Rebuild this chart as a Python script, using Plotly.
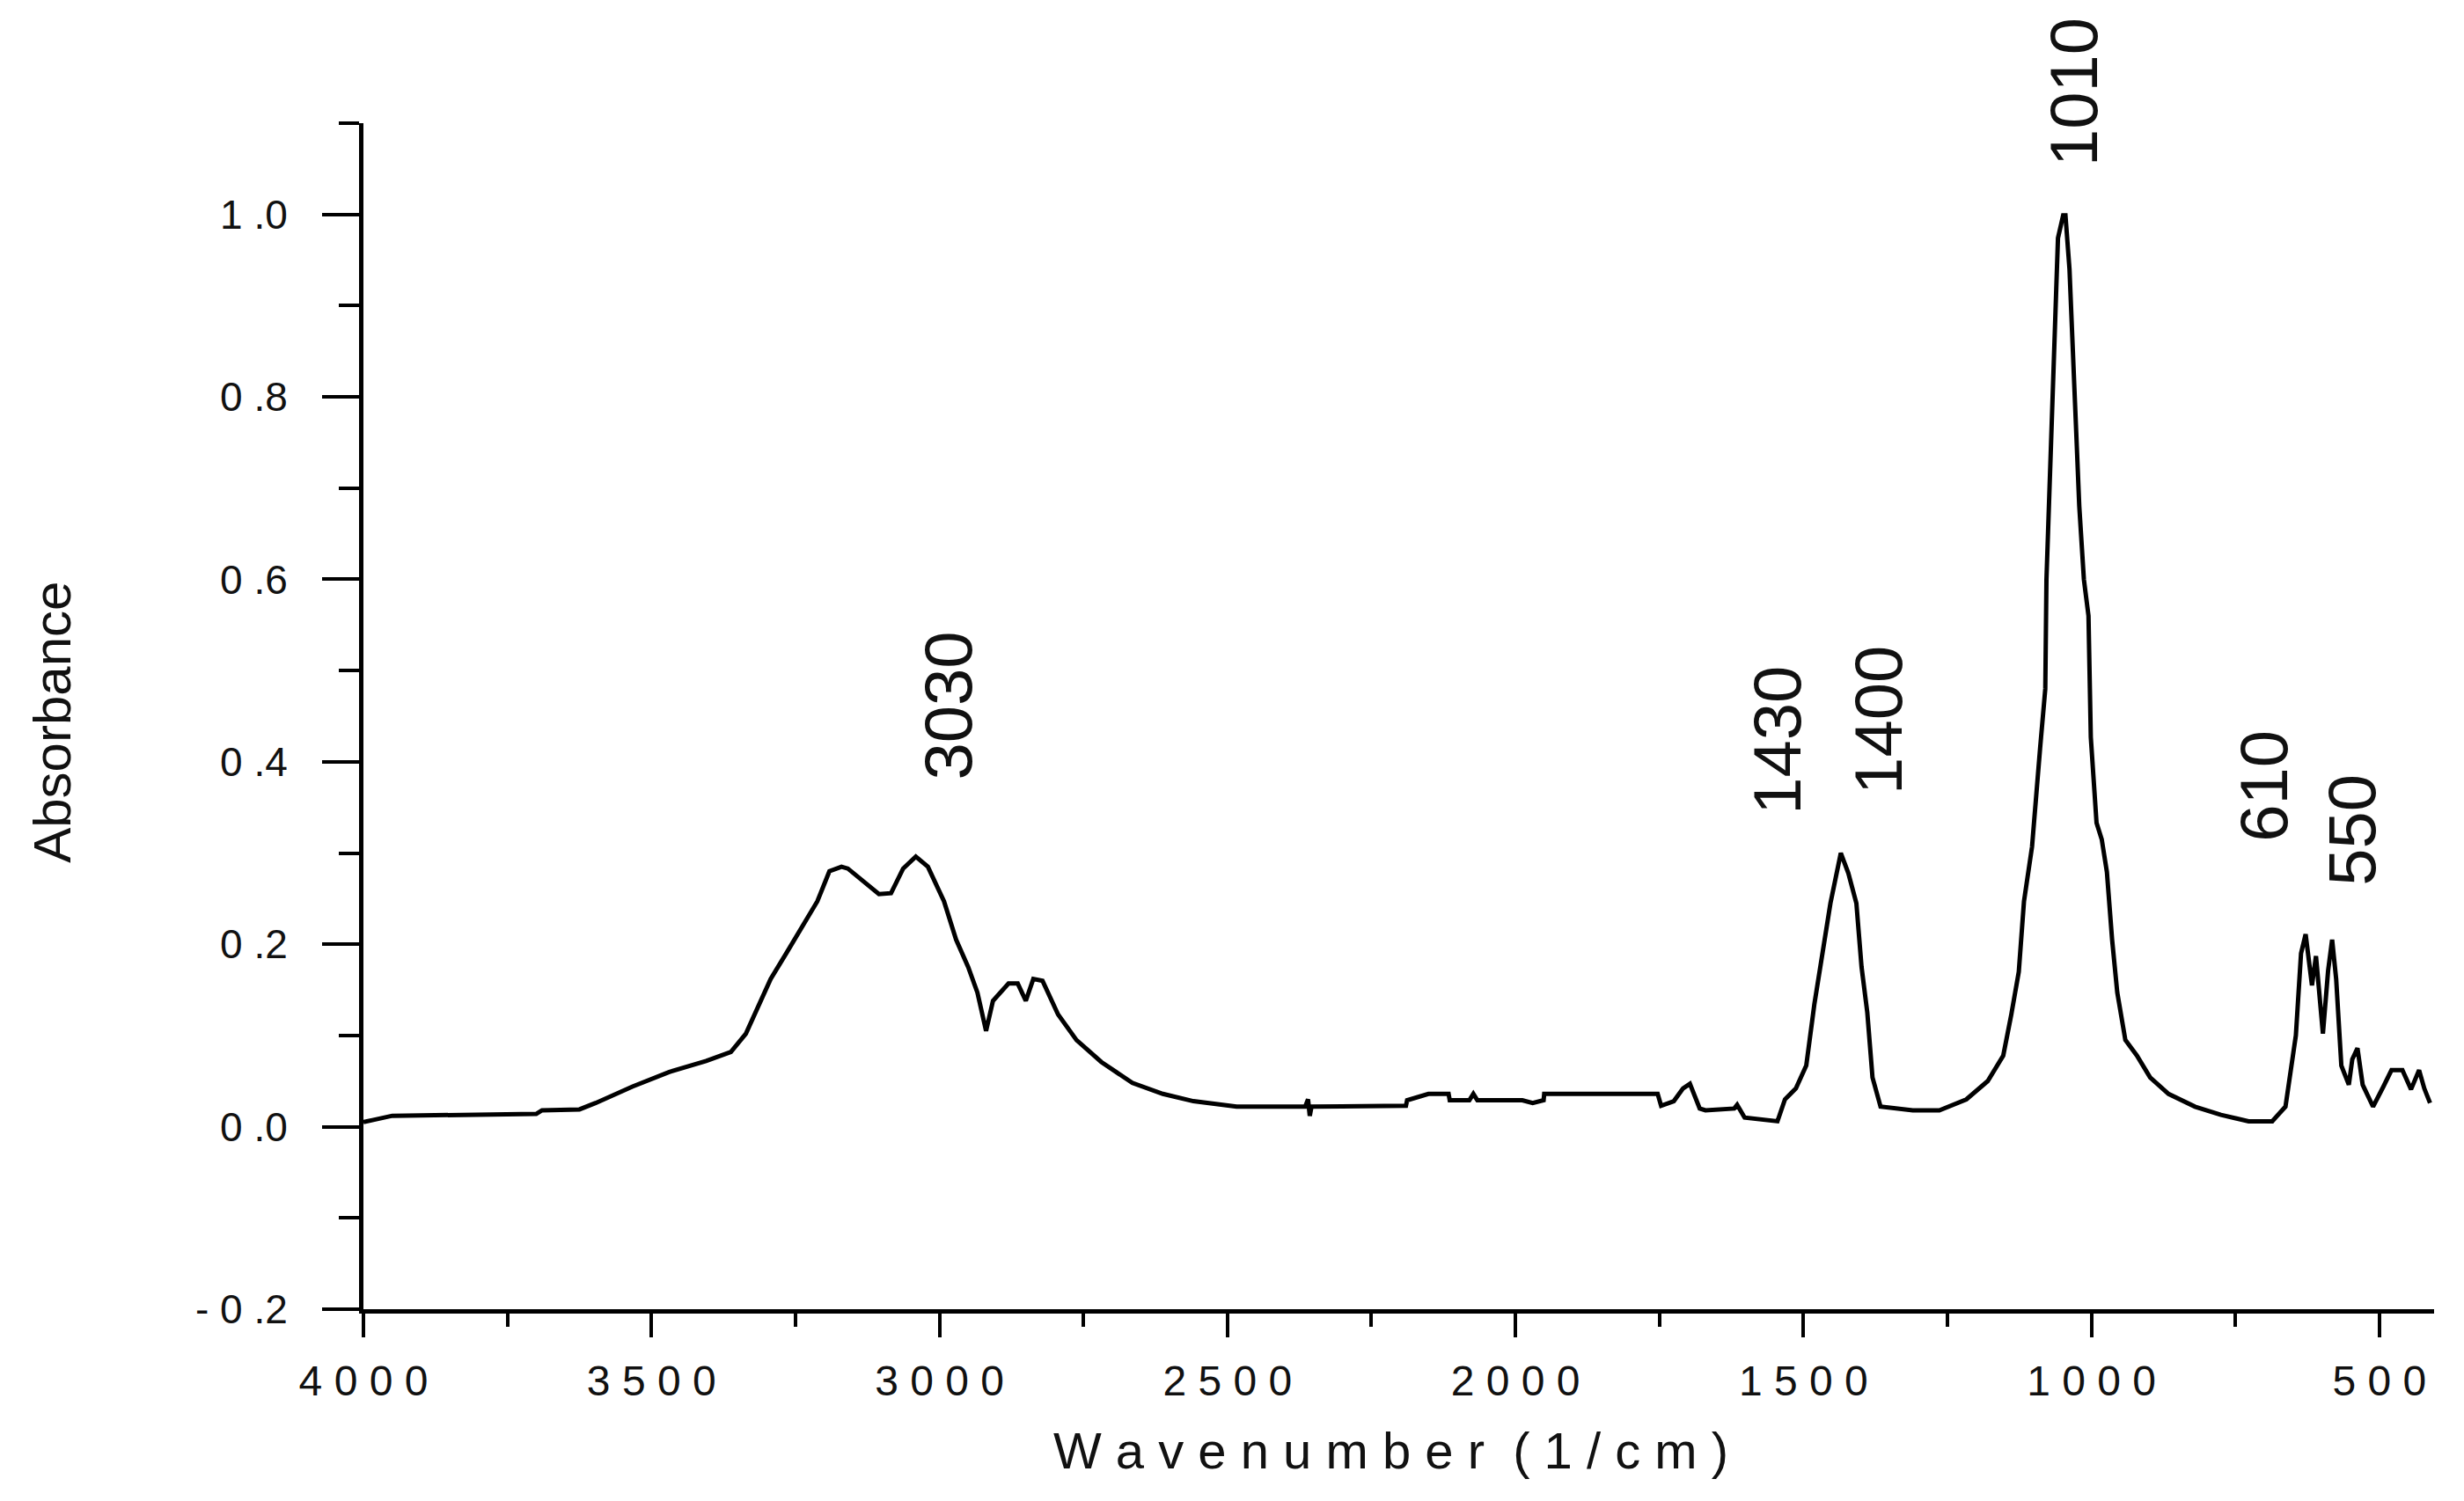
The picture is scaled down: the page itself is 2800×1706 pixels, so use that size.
import plotly.graph_objects as go

GRAPH_WIDTH = 2800
GRAPH_HEIGHT = 1706
FONT = "Liberation Sans"
Y_RANGE = [-0.2, 1.1]

# Spectrum (wavenumber in 1/cm, absorbance)
wavenumber = [
    4000, 3950, 3700, 3690, 3625, 3597, 3533, 3469, 3405, 3362, 3336, 3315,
    3293, 3266, 3238, 3212, 3191, 3170, 3159, 3105, 3084, 3063, 3041, 3020,
    2992, 2971, 2950, 2934, 2919, 2907, 2880, 2864, 2850, 2837, 2821, 2794,
    2762, 2719, 2665, 2612, 2559, 2484, 2365, 2360, 2357, 2354, 2190, 2188,
    2151, 2116, 2114, 2080, 2073, 2066, 1988, 1970, 1951, 1950, 1753, 1747,
    1725, 1709, 1697, 1680, 1670, 1620, 1615, 1602, 1545, 1532, 1513, 1495,
    1481, 1467, 1453, 1435, 1422, 1408, 1399, 1389, 1380, 1366, 1310, 1264,
    1217, 1180, 1153, 1139, 1126, 1117, 1103, 1089, 1080, 1078, 1067, 1058,
    1049, 1045, 1038, 1030, 1021, 1013, 1005, 1001, 991, 982, 973, 964, 955,
    941, 921, 898, 866, 820, 775, 727, 686, 663, 645, 636, 628, 617, 610,
    598, 589, 582, 575, 566, 553, 547, 538, 529, 511, 493, 479, 460, 445,
    431, 422, 412,
]
absorbance = [
    0.005, 0.012, 0.014, 0.018, 0.019, 0.026, 0.044, 0.060, 0.072, 0.082, 0.102, 0.132,
    0.162, 0.190, 0.220, 0.247, 0.280, 0.285, 0.283, 0.255, 0.256, 0.283, 0.296, 0.285,
    0.247, 0.205, 0.175, 0.147, 0.105, 0.138, 0.157, 0.157, 0.138, 0.162, 0.160, 0.123,
    0.095, 0.071, 0.048, 0.036, 0.028, 0.022, 0.022, 0.030, 0.012, 0.022, 0.023, 0.029,
    0.036, 0.036, 0.029, 0.029, 0.036, 0.029, 0.029, 0.026, 0.029, 0.036, 0.036, 0.023,
    0.028, 0.042, 0.047, 0.020, 0.018, 0.020, 0.024, 0.010, 0.006, 0.030, 0.042, 0.067,
    0.134, 0.190, 0.245, 0.300, 0.278, 0.245, 0.175, 0.125, 0.054, 0.022, 0.018, 0.018,
    0.030, 0.050, 0.078, 0.123, 0.170, 0.247, 0.307, 0.415, 0.480, 0.600, 0.825, 0.974,
    0.999, 0.999, 0.940, 0.820, 0.680, 0.600, 0.560, 0.427, 0.333, 0.315, 0.279, 0.205, 0.147,
    0.095, 0.078, 0.054, 0.036, 0.022, 0.013, 0.006, 0.006, 0.022, 0.100, 0.190, 0.211, 0.155, 0.187,
    0.102, 0.171, 0.205, 0.162, 0.067, 0.046, 0.074, 0.086, 0.046, 0.022, 0.044, 0.062, 0.062, 0.041,
    0.062, 0.042, 0.026,
]

# Peak labels and where they sit (x in 1/cm, y in absorbance units)
peak_labels = ["3030", "1430", "1400", "1010", "610", "550"]
label_x = [2984, 1545, 1371, 1031, 700, 547]
label_y = [0.462, 0.424, 0.446, 1.134, 0.374, 0.325]

x_ticks = [4000, 3500, 3000, 2500, 2000, 1500, 1000, 500]
x_ticktext = ["4 0 0 0", "3 5 0 0", "3 0 0 0", "2 5 0 0", "2 0 0 0", "1 5 0 0", "1 0 0 0", "5 0 0"]
y_ticks = [-0.2, 0.0, 0.2, 0.4, 0.6, 0.8, 1.0]
y_ticktext = ["- 0 .2", "0 .0", "0 .2", "0 .4", "0 .6", "0 .8", "1 .0"]


def plot_spectrum():
    """Plot IR absorbance spectrum"""
    fig = go.Figure()
    fig.add_trace(
        go.Scatter(
            x=wavenumber,
            y=absorbance,
            mode="lines",
            line=dict(color="black", width=5),
            showlegend=False,
        )
    )

    # labels use paper y so the one above the axis top is not hidden
    for text, x, y in zip(peak_labels, label_x, label_y):
        fig.add_annotation(
            x=x, y=(y - Y_RANGE[0]) / (Y_RANGE[1] - Y_RANGE[0]), yref="paper",
            text=text, textangle=-90, showarrow=False,
            xanchor="center", yanchor="middle",
            font=dict(family=FONT, size=76, color="#111111"),
        )

    # axis titles
    fig.add_annotation(
        xref="paper", yref="paper", x=0.496, y=-0.119,
        text="W a v e n u m b e r  ( 1 / c m )", showarrow=False,
        xanchor="center", yanchor="middle",
        font=dict(family=FONT, size=58, color="#111111"),
    )
    fig.add_annotation(
        xref="paper", yref="paper", x=-0.150, y=0.495,
        text="Absorbance", textangle=-90, showarrow=False,
        xanchor="center", yanchor="middle",
        font=dict(family=FONT, size=60, color="#111111"),
    )

    fig.update_layout(
        width=GRAPH_WIDTH,
        height=GRAPH_HEIGHT,
        margin=dict(l=405, r=42, t=132, b=226),
        plot_bgcolor="white",
        paper_bgcolor="white",
        xaxis=dict(
            range=[4000, 405],
            showgrid=False,
            zeroline=False,
            showline=True,
            linecolor="black",
            linewidth=5,
            ticks="outside",
            ticklen=27,
            tickwidth=4,
            tickcolor="black",
            tickmode="array",
            tickvals=x_ticks,
            ticktext=x_ticktext,
            ticklabelstandoff=8,
            tickfont=dict(family=FONT, size=48, color="#111111"),
            minor=dict(ticks="outside", ticklen=15, tickwidth=4, tickcolor="black",
                       tick0=4000, dtick=250),
        ),
        yaxis=dict(
            range=Y_RANGE,
            showgrid=False,
            zeroline=False,
            showline=True,
            linecolor="black",
            linewidth=5,
            ticks="outside",
            ticklen=42,
            tickwidth=4,
            tickcolor="black",
            tickmode="array",
            tickvals=y_ticks,
            ticktext=y_ticktext,
            ticklabelstandoff=30,
            tickfont=dict(family=FONT, size=46, color="#111111"),
            minor=dict(ticks="outside", ticklen=23, tickwidth=4, tickcolor="black",
                       tick0=-0.2, dtick=0.1),
        ),
    )
    return fig


fig = plot_spectrum()
fig.write_html("out.html")
